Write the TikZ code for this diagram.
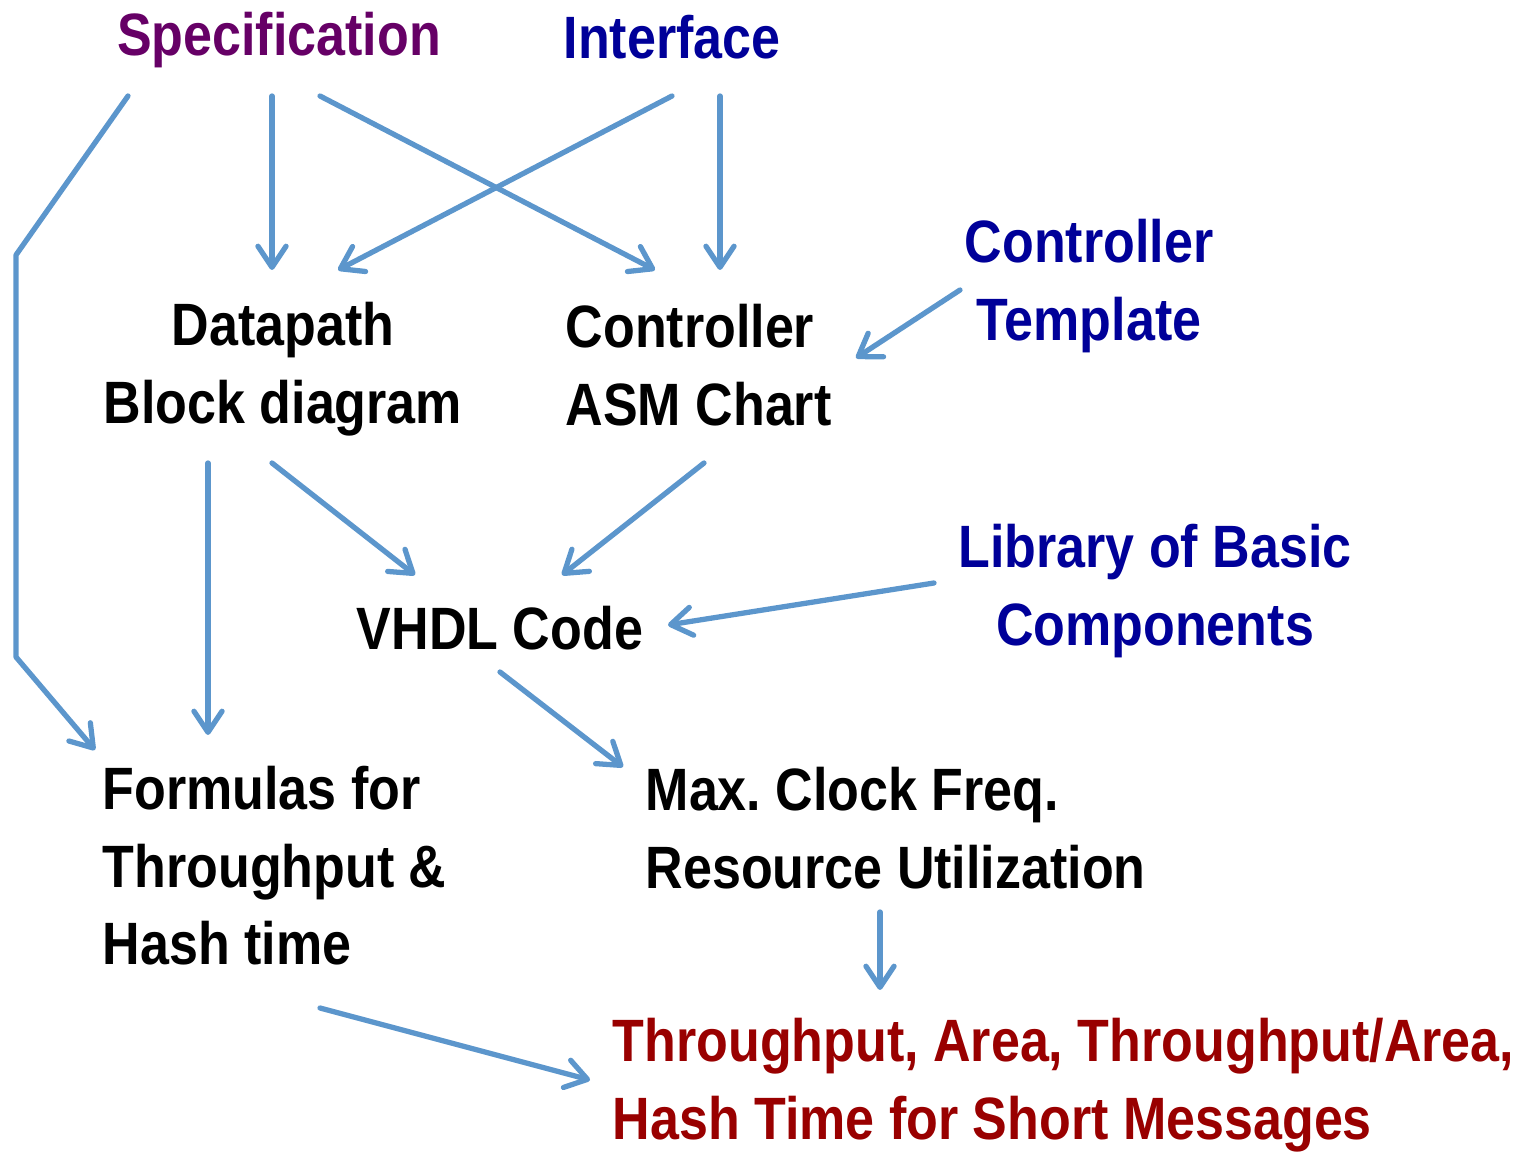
\documentclass[tikz,border=0pt]{standalone}
\usepackage{fontspec}
\setmainfont{Liberation Sans}[FakeStretch=0.87]
\usetikzlibrary{arrows.meta,calc}
\definecolor{specpurple}{RGB}{102,0,102}
\definecolor{inblue}{RGB}{0,0,153}
\definecolor{outred}{RGB}{153,0,0}
\definecolor{arrblue}{RGB}{92,150,204}
\frenchspacing

\begin{document}
\begin{tikzpicture}[x=0.01cm, y=-0.01cm, t/.style={font=\fontsize{17}{22}\selectfont\bfseries, inner sep=0pt, align=center}, tl/.style={t, align=left, anchor=west}, a/.style={draw=arrblue, line width=1.5pt, line cap=round, line join=round, -{Straight Barb[length=6pt, width=8pt, line cap=round, line join=round]}}]
		\useasboundingbox (0,0) rectangle (1526,1152);
		\node[t, text=specpurple] (spec) at (279,40) {Specification};
		\node[t, text=inblue] (intf) at (672,37) {Interface};
		\node[t] (dp) at (283,369) {Datapath\\Block diagram};
		\node[tl] (ctl) at (565,365) {Controller\\ASM Chart};
		\node[t, text=inblue] (tmpl) at (1089,286) {Controller\\Template};
		\node[t] (vhdl) at (500,628) {VHDL Code};
		\node[t, text=inblue] (lib) at (1155,591) {Library of Basic\\Components};
		\node[tl] (form) at (102,866) {Formulas for\\Throughput \&\\Hash time};
		\node[tl] (maxf) at (645,828) {Max. Clock Freq.\\Resource Utilization};
		\node[tl, text=outred] (res) at (612,1085) {Throughput, Area, Throughput/Area,\\Hash Time for Short Messages};

		\coordinate (bendA) at (16,255);
		\coordinate (bendB) at (16,657);

		\draw[a] ($(spec)+(-151,56)$) -- (bendA) -- (bendB) -- ($(form.west)+(-7,-116)$);
		\draw[a] ($(spec)+(-7,56)$) -- ($(dp)+(-11,-99)$);
		\draw[a] ($(spec)+(41,56)$) -- ($(ctl.west)+(90,-95)$);
		\draw[a] ($(intf)+(0,59)$) -- ($(dp)+(55,-99)$);
		\draw[a] ($(intf)+(48,59)$) -- ($(ctl.west)+(155,-95)$);
		\draw[a] ($(tmpl)+(-129,4)$) -- ($(ctl.west)+(291,-7)$);
		\draw[a] ($(dp)+(-11,94)$) -- ($(vhdl)+(-85,-53)$);
		\draw[a] ($(ctl.west)+(139,98)$) -- ($(vhdl)+(62,-53)$);
		\draw[a] ($(lib)+(-221,-8)$) -- ($(vhdl)+(168,-3)$);
		\draw[a] ($(dp)+(-75,94)$) -- ($(form.west)+(106,-131)$);
		\draw[a] ($(vhdl)+(0,44)$) -- ($(maxf.west)+(-22,-61)$);
		\draw[a] ($(maxf.west)+(235,84)$) -- ($(res.west)+(268,-95)$);
		\draw[a] ($(form.west)+(218,142)$) -- ($(res.west)+(-22,-5)$);
	\end{tikzpicture}
\end{document}
